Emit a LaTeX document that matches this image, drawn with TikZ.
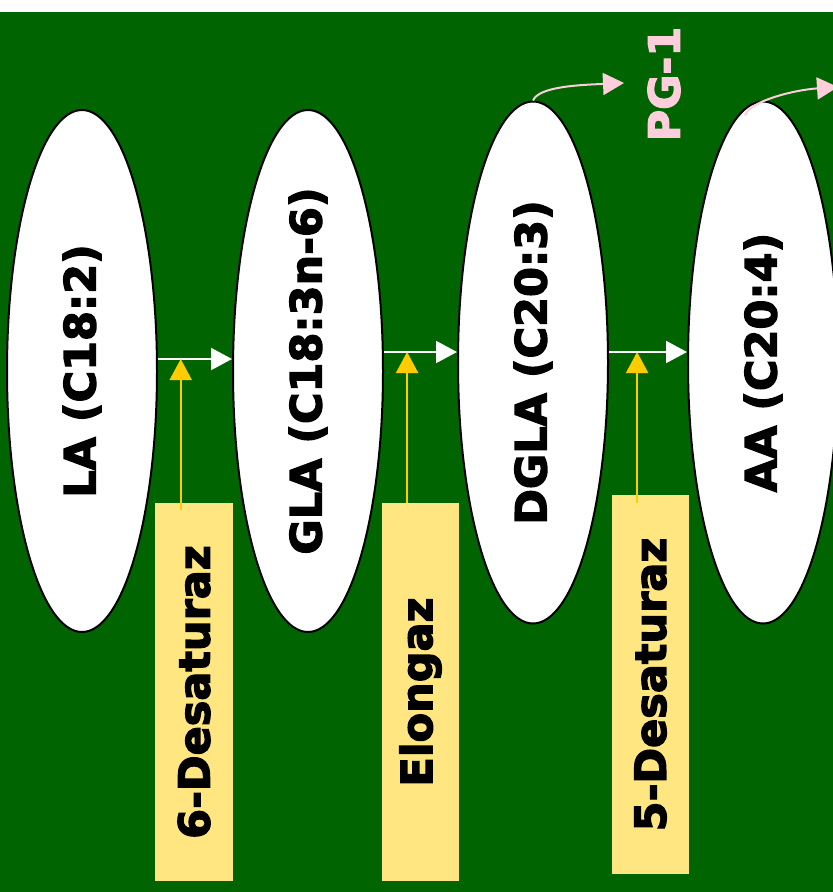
\documentclass[tikz,border=0pt]{standalone}
\usepackage{fontspec}
\setmainfont{DejaVu Sans}[BoldFeatures={FakeBold=3}]
\usetikzlibrary{shapes.geometric,arrows.meta,calc}
\definecolor{bggreen}{HTML}{006400}
\definecolor{boxyellow}{HTML}{FFE680}
\definecolor{arrowyellow}{HTML}{FFCC00}
\definecolor{pgpink}{HTML}{FFCEDC}
\begin{document}
\begin{tikzpicture}[x=1pt,y=-1pt,
  acid/.style={ellipse,draw=black,line width=2pt,fill=white,minimum width=150pt,minimum height=522pt,inner sep=0pt,font=\fontsize{43}{50}\selectfont\bfseries},
  enzyme/.style={rectangle,fill=boxyellow,minimum width=77pt,minimum height=378pt,inner sep=0pt,font=\fontsize{43}{50}\selectfont\bfseries},
  warrow/.style={draw=white,line width=2pt,-{Triangle[length=21pt,width=22pt]}},
  yarrow/.style={draw=arrowyellow,line width=2pt,-{Triangle[length=21pt,width=22pt]}},
  parrow/.style={draw=pgpink,line width=2pt,-{Triangle[length=21pt,width=22pt]}}]
\useasboundingbox (0,0) rectangle (833,892);
\clip (0,0) rectangle (833,892);
\fill[white] (0,0) rectangle (833,12);
\fill[bggreen] (0,12) rectangle (833,892);

\node[acid] (e1) at (82,371) {\rotatebox{90}{LA (C18:2)}};
\node[acid] (e2) at (308,371) {\rotatebox{90}{GLA (C18:3n-6)}};
\node[acid] (e3) at (533,362.5) {\rotatebox{90}{DGLA (C20:3)}};
\node[acid] (e4) at (763,362.5) {\rotatebox{90}{AA (C20:4)}};

\node[enzyme,minimum width=78pt] (b1) at (194,692) {\rotatebox{90}{6-Desaturaz}};
\node[enzyme] (b2) at (420.5,692) {\rotatebox{90}{Elongaz}};
\node[enzyme,minimum height=379pt] (b3) at (650.5,684.5) {\rotatebox{90}{5-Desaturaz}};

\node[text=pgpink,font=\fontsize{43}{50}\selectfont\bfseries] (pg) at (664,84) {\rotatebox{90}{PG-1}};

\coordinate (r1) at (0,359);
\coordinate (r2) at (0,352);
\coordinate (r3) at (0,352);
\draw[warrow] (e1.east |- r1) -- (e2.west |- r1) coordinate[pos=0.307] (m1);
\draw[warrow] (e2.east |- r2) -- (e3.west |- r2) coordinate[pos=0.316] (m2);
\draw[warrow] (e3.east |- r3) -- (e4.west |- r3) coordinate[pos=0.36] (m3);

\draw[yarrow] (m1 |- b1.north) ++(0,7) -- (m1);
\draw[yarrow] (m2 |- b2.north) ++(0,0) -- (m2);
\draw[yarrow] (m3 |- b3.north) ++(0,8) -- (m3);

\coordinate (t1) at (624,83);
\coordinate (t2) at (838,87);
\draw[parrow] (e3.north) .. controls +(6,-14) and +(-45,2) .. (t1);
\draw[parrow] ([xshift=-18pt,yshift=-15pt]e4.north) .. controls +(4,-14) and +(-45,3) .. (t2);
\end{tikzpicture}
\end{document}
